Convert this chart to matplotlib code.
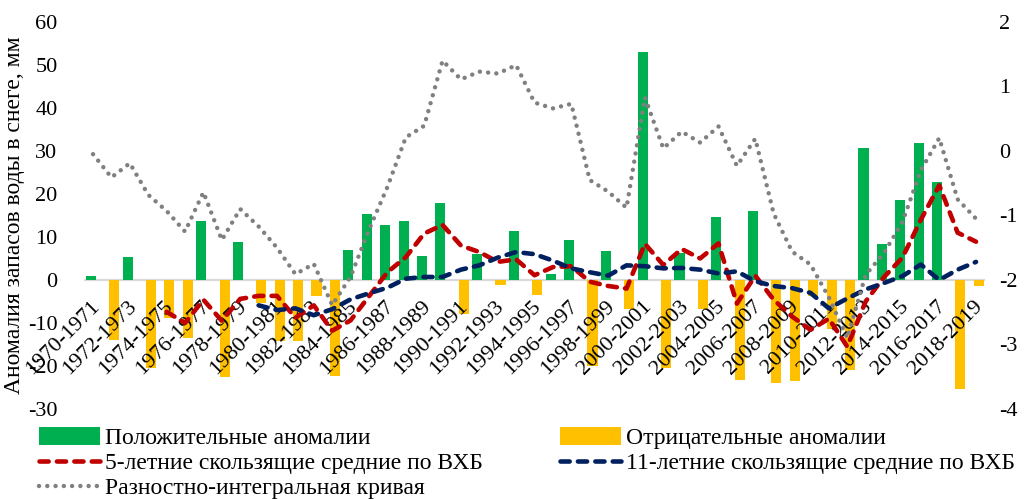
import matplotlib
matplotlib.use("Agg")
import matplotlib.pyplot as plt
import numpy as np

plt.rcParams['font.family'] = ['Liberation Serif', 'DejaVu Serif']
plt.rcParams['axes.unicode_minus'] = False

# hydrological years 1970-1971 ... 2018-2019
seasons = [f"{y}-{y + 1}" for y in range(1970, 2019)]

# anomalies of snow water equivalent, mm (left axis)
anomaly = [0.9, -14.0, 5.3, -20.5, -8.8, -13.4, 13.7, -22.5, 8.9, -5.3,
           -14.2, -14.2, -3.8, -22.3, 7.0, 15.4, 12.8, 13.7, 5.6, 17.9,
           -8.0, 6.1, -1.2, 11.5, -3.5, 1.3, 9.4, -20.0, 6.7, -6.7,
           52.9, -20.5, 6.3, -6.8, 14.7, -23.2, 16.0, -24.0, -23.5, -3.8,
           -11.5, -21.0, 30.6, 8.3, 18.7, 31.8, 22.8, -25.3, -1.4]

# 5-year moving average, starts at 1974-1975
ma5_start = 4
ma5 = [-7.4, -10.0, -4.6, -9.5, -4.4, -3.7, -3.7, -8.8, -5.9, -11.8,
       -9.4, -3.8, 1.8, 5.3, 10.8, 12.8, 8.0, 6.5, 4.2, 4.8,
       1.1, 3.0, 3.2, -0.4, -1.4, -2.0, 8.4, 3.5, 7.2, 5.0,
       8.5, -5.5, 1.0, -4.6, -8.5, -11.6, -9.0, -15.5, -5.0, 0.7,
       5.2, 14.0, 22.0, 11.0, 8.9]

# 11-year moving average, starts at 1979-1980
ma11_start = 9
ma11 = [-5.9, -7.0, -6.6, -8.2, -6.8, -4.5, -3.1, -1.8, 0.3, 0.7,
        0.7, 2.4, 3.4, 5.2, 6.5, 6.0, 4.5, 2.7, 1.8, 1.0,
        3.4, 3.2, 2.7, 2.8, 2.4, 1.5, 2.0, -0.3, -1.4, -1.9,
        -3.0, -6.6, -4.3, -2.2, -0.7, 0.9, 3.6, 0.0, 2.4, 4.2]

# difference-integral curve (right axis)
diff_curve = [-0.05, -0.41, -0.19, -0.68, -0.93, -1.25, -0.64, -1.38, -0.90, -1.17,
              -1.50, -1.91, -1.75, -2.39, -1.95, -1.22, -0.56, 0.21, 0.39, 1.40,
              1.11, 1.23, 1.20, 1.33, 0.75, 0.66, 0.73, -0.45, -0.63, -0.88,
              0.83, 0.04, 0.30, 0.13, 0.38, -0.23, 0.19, -0.97, -1.56, -1.76,
              -2.27, -2.90, -1.92, -1.58, -1.10, -0.30, 0.20, -0.75, -1.05]

lbl_pos = "Положительные аномалии"
lbl_neg = "Отрицательные аномалии"
lbl_ma5 = "5-летние скользящие средние по ВХБ"
lbl_ma11 = "11-летние скользящие средние по ВХБ"
lbl_diff = "Разностно-интегральная кривая"

GREEN = '#00B050'
YELLOW = '#FFC000'
RED = '#C00000'
NAVY = '#002060'
GREY = '#808080'

fig = plt.figure(figsize=(10.25, 4.99), dpi=100)
ax = fig.add_axes([0.0818, 0.1804, 0.8794, 0.7756])
ax2 = ax.twinx()

x = np.arange(len(seasons))
a = np.array(anomaly)
pos = np.where(a > 0, a, 0)
neg = np.where(a < 0, a, 0)

ax.axhline(0, color='#D9D9D9', lw=1.6, zorder=0)
b1 = ax.bar(x - 0.12, pos, width=0.55, color=GREEN, linewidth=0, zorder=2)
b2 = ax.bar(x + 0.15, neg, width=0.55, color=YELLOW, linewidth=0, zorder=2)

l1, = ax.plot(x[ma5_start:], ma5, color=RED, lw=3.3,
              ls=(0, (2.0, 1.8)), dash_capstyle='round', zorder=4)
l2, = ax.plot(x[ma11_start:], ma11, color=NAVY, lw=3.3,
              ls=(0, (2.0, 1.8)), dash_capstyle='round', zorder=4)
l3, = ax2.plot(x, diff_curve, color=GREY, lw=3.2,
               ls=(0, (0.01, 1.85)), dash_capstyle='round')

ax.set_xlim(-0.5, len(seasons) - 0.5)
ax.set_ylim(-30, 60)
ax.set_yticks(range(-30, 61, 10))
ax2.set_ylim(-4, 2)
ax2.set_yticks(range(-4, 3))

ax.spines['bottom'].set_position(('data', 0))
for s in ax.spines.values():
    s.set_visible(False)
for s in ax2.spines.values():
    s.set_visible(False)

ax.tick_params(axis='x', length=0, pad=17, labelsize=16, labelrotation=45)
ax.tick_params(axis='y', length=0, pad=19, labelsize=16)
ax2.tick_params(axis='y', length=0, pad=10, labelsize=16)

ax.set_xticks(x[::2] + 0.2)
ax.set_xticklabels(seasons[::2])
for t in ax.get_xticklabels():
    t.set_ha('right')
    t.set_va('center')
    t.set_rotation_mode('anchor')
ax.xaxis.set_zorder(3)

ax.set_ylabel("Аномалия запасов воды в снеге, мм", fontsize=17)
ax.yaxis.set_label_coords(-0.0655, 0.5)

leg_kw = dict(loc='upper left', frameon=False, fontsize=17, borderpad=0,
              borderaxespad=0, handlelength=2.6, handleheight=0.8,
              handletextpad=0.2, labelspacing=0.12)
fig.legend([b1, l1, l3], [lbl_pos, lbl_ma5, lbl_diff],
           bbox_to_anchor=(39 / 1025, 1 - 427 / 499), **leg_kw)
fig.legend([b2, l2], [lbl_neg, lbl_ma11],
           bbox_to_anchor=(560 / 1025, 1 - 427 / 499), **leg_kw)

fig.savefig("out.png", dpi=100)
